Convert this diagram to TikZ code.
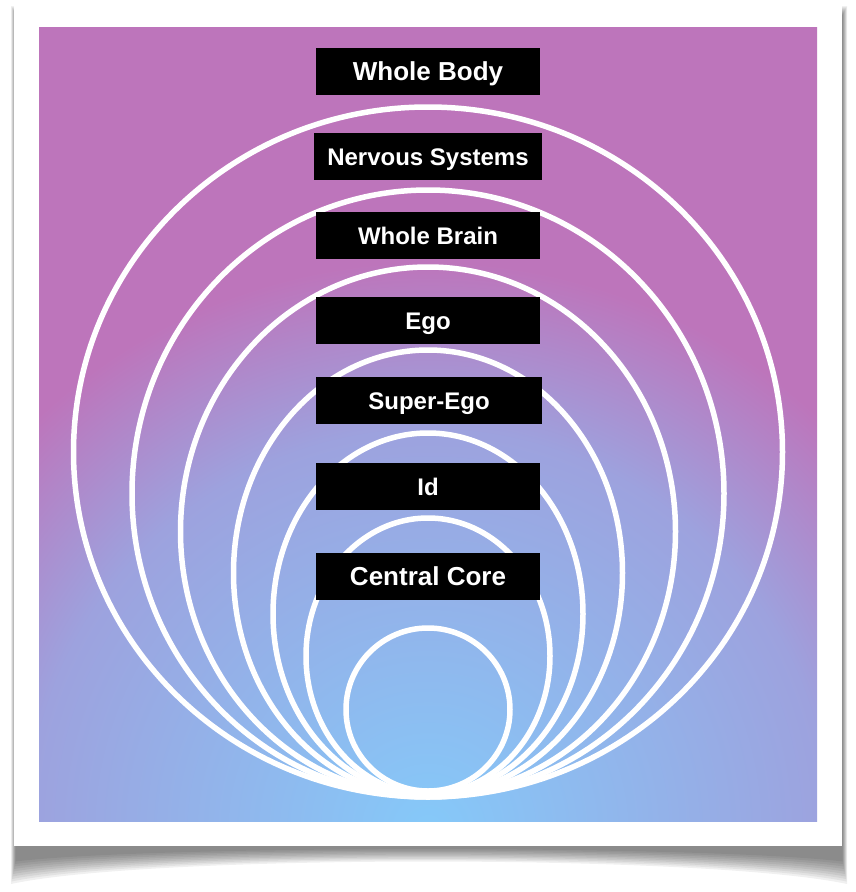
\documentclass[tikz,border=0pt]{standalone}
\usepackage{fontspec}
\setmainfont{Liberation Sans}
\definecolor{coreblue}{HTML}{85C9F9}
\definecolor{midlav}{HTML}{9DA2DE}
\definecolor{outpurple}{HTML}{BD75BB}
\pgfdeclareradialshading{mindglow}{\pgfpointorigin}{color(0bp)=(coreblue); color(11.1bp)=(midlav); color(15.8bp)=(outpurple); color(25bp)=(outpurple); color(50bp)=(outpurple)}
\begin{document}
\begin{tikzpicture}[x=1pt,y=-1pt,line join=round,line cap=round,
	tagbox/.style={fill=black,text=white,font=\bfseries\fontsize{24}{28}\selectfont,minimum width=224pt,minimum height=47pt,inner sep=0pt,text height=18pt,text depth=0pt},
	bigtag/.style={tagbox,font=\bfseries\fontsize{26}{30}\selectfont},
	shell/.style={draw=white,line width=5.5pt}]
	\useasboundingbox (0,0) rectangle (856,892);
	% soft shadow under the frame
	\foreach \k in {0,...,9}
	\fill[black,opacity=0.06] (11+0.5*\k,6+\k) -- (11+0.5*\k,884-2.5*\k) .. controls (150,854-\k) and (706,854-\k) .. (847-0.5*\k,884-2.5*\k) -- (847-0.5*\k,6+\k) -- cycle;
	\fill[white] (14,3) rectangle (842,846);
	\begin{scope}
		\clip (39,27) rectangle (817,821);
		\shade[shading=mindglow] (428,830) circle (900);
	\end{scope}
	\foreach \cy/\rx/\ry in {452/354.5/345,493.5/296/303.5,531.5/247.5/264.5,573/194.5/223,614/155/181,656/122/138,709.5/82/81.5}
	\draw[shell] (428,\cy) ellipse [x radius=\rx, y radius=\ry];
	\node[bigtag] (body) at (428,71) {Whole Body};
	\node[tagbox,minimum width=228pt] (nerves) at (428,156) {Nervous Systems};
	\node[tagbox] (brain) at (428,235) {Whole Brain};
	\node[tagbox] (ego) at (428,320) {Ego};
	\node[tagbox,minimum width=226pt] (superego) at (429,400) {Super-Ego};
	\node[tagbox] (id) at (428,486) {Id};
	\node[bigtag] (core) at (428,576) {Central Core};
\end{tikzpicture}
\end{document}
